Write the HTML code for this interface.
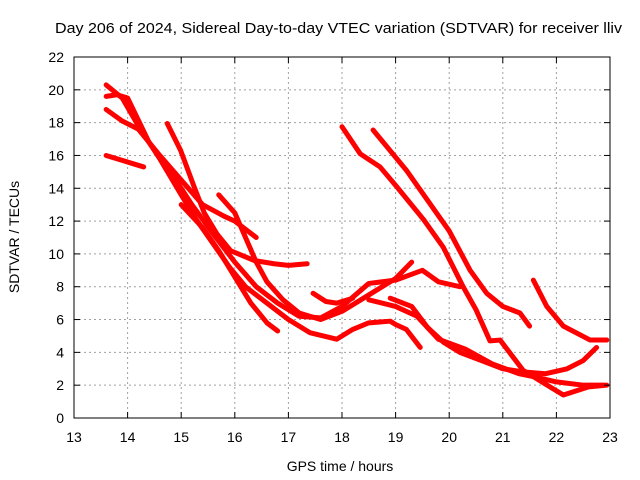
<!DOCTYPE html>
<html><head><meta charset="utf-8"><style>
body{margin:0;background:#fff;}
svg{display:block;font-family:"Liberation Sans",sans-serif;}
</style></head><body>
<svg id="chart" width="640" height="480">
<text x="55" y="33" font-size="15" textLength="567" lengthAdjust="spacingAndGlyphs">Day 206 of 2024, Sidereal Day-to-day VTEC variation (SDTVAR) for receiver lliv</text>
<text x="340" y="471" font-size="14" text-anchor="middle">GPS time / hours</text>
<text transform="translate(19,237) rotate(-90)" font-size="14" text-anchor="middle">SDTVAR / TECUs</text>
<g id="grid"></g><g id="series"></g><g id="axes"></g>
</svg>
<script>
const xTicks=[13,14,15,16,17,18,19,20,21,22,23];
const yTicks=[0,2,4,6,8,10,12,14,16,18,20,22];
const s1=[[13.6,20.3],[13.9,19.5],[14.2,17.8],[14.6,15.8],[15.0,13.6],[15.3,12.0],[15.6,10.6],[15.9,9.2],[16.2,8.0],[16.6,7.0],[17.0,6.0],[17.4,5.2],[17.9,4.8],[18.2,5.4],[18.5,5.8],[18.9,5.9],[19.0,5.7],[19.2,5.4],[19.46,4.3]];
const s2=[[13.6,19.6],[13.8,19.7],[14.0,19.5],[14.4,16.8],[14.8,15.0],[15.2,13.0],[15.6,11.2],[16.0,9.5],[16.4,8.0],[16.8,7.0],[17.2,6.2],[17.6,6.1],[18.0,6.8],[18.5,8.2],[19.0,8.4],[19.5,9.0],[19.8,8.3],[20.2,8.0]];
const s3=[[13.6,18.8],[13.9,18.1],[14.2,17.6],[14.6,16.0],[15.0,14.5],[15.4,13.0],[15.8,12.3],[16.0,12.0],[16.4,11.0]];
const s4=[[13.6,16.0],[13.9,15.7],[14.2,15.4],[14.3,15.3]];
const s5=[[14.74,17.95],[14.99,16.3],[15.24,14.1],[15.43,12.5],[15.67,11.2],[15.92,10.2],[16.36,9.6],[16.73,9.4],[17.0,9.3],[17.35,9.4]];
const s6=[[15.7,13.6],[16.0,12.5],[16.2,11.0],[16.4,9.5],[16.6,8.3],[16.9,7.2],[17.2,6.4],[17.6,6.0],[18.0,6.5],[18.5,7.5],[19.0,8.5],[19.3,9.5]];
const s7=[[15.0,13.0],[15.4,11.6],[15.7,10.2],[16.0,8.6],[16.3,7.0],[16.6,5.8],[16.8,5.3]];
const s8=[[18.0,17.75],[18.34,16.1],[18.71,15.3],[19.02,14.1],[19.52,12.1],[19.89,10.4],[20.26,8.0],[20.5,6.6],[20.76,4.7],[20.95,4.75],[21.38,2.9],[21.88,1.9],[22.13,1.4],[22.6,1.9],[22.94,2.0]];
const s9=[[18.58,17.55],[19.2,15.1],[20.0,11.4],[20.39,9.0],[20.7,7.6],[21.0,6.8],[21.32,6.4],[21.5,5.6]];
const s10=[[21.57,8.4],[21.82,6.8],[22.13,5.6],[22.63,4.75],[22.94,4.75]];
const s11=[[18.9,7.3],[19.3,6.8],[19.6,5.5],[19.9,4.6],[20.2,4.0],[20.6,3.5],[21.0,3.0],[21.4,2.8],[21.8,2.7],[22.2,3.0],[22.5,3.5],[22.75,4.3]];
const s12=[[18.5,7.2],[19.0,6.8],[19.4,6.2],[19.8,4.8],[20.3,4.2],[20.8,3.3],[21.3,2.7],[21.6,2.5],[22.0,2.2],[22.5,2.0],[22.9,2.0]];
const s13=[[17.46,7.6],[17.7,7.1],[17.9,7.0],[18.2,7.3]];
const seriesList=[s1,s2,s3,s4,s5,s6,s7,s8,s9,s10,s11,s12,s13];

const X0=74,X1=610,Y0=418,Y1=57;
const sx=v=>X0+(v-13)/(23-13)*(X1-X0);
const sy=v=>Y0-(v-0)/(22-0)*(Y0-Y1);
const NS="http://www.w3.org/2000/svg";
const grid=document.getElementById('grid'),axes=document.getElementById('axes'),ser=document.getElementById('series');
function mk(tag,attrs,parent){const e=document.createElementNS(NS,tag);for(const k in attrs)e.setAttribute(k,attrs[k]);parent.appendChild(e);return e;}
xTicks.forEach(t=>{
  const x=sx(t);
  if(t>13&&t<23){const g=mk('line',{x1:x,x2:x,y1:Y1,y2:Y0,stroke:'#a0a0a0','stroke-dasharray':'2,3'},grid);
  
  }
  mk('line',{x1:x,x2:x,y1:Y0,y2:Y0-6,stroke:'#000'},axes);
  mk('line',{x1:x,x2:x,y1:Y1,y2:Y1+6,stroke:'#000'},axes);
  const l=mk('text',{x:x,y:Y0+24,'font-size':14,'text-anchor':'middle'},axes);
  l.textContent=t;
  
  
});
yTicks.forEach(t=>{
  const y=sy(t);
  if(t>0&&t<22){const g=mk('line',{x1:X0,x2:X1,y1:y,y2:y,stroke:'#a0a0a0','stroke-dasharray':'2,3'},grid);
  
  }
  mk('line',{x1:X0,x2:X0+6,y1:y,y2:y,stroke:'#000'},axes);
  mk('line',{x1:X1,x2:X1-6,y1:y,y2:y,stroke:'#000'},axes);
  const l=mk('text',{x:X0-10,y:y+5,'font-size':14,'text-anchor':'end'},axes);
  l.textContent=t;
  
  
});
const box=mk('rect',{x:X0,y:Y1,width:X1-X0,height:Y0-Y1,fill:'none',stroke:'#000'},axes);


seriesList.forEach((s,i)=>{
  const p=mk('polyline',{points:s.map(d=>sx(d[0])+','+sy(d[1])).join(' '),fill:'none',stroke:'#ff0000','stroke-width':5,'stroke-linejoin':'round','stroke-linecap':'round'},ser);
  
  
});
</script>
</body></html>
